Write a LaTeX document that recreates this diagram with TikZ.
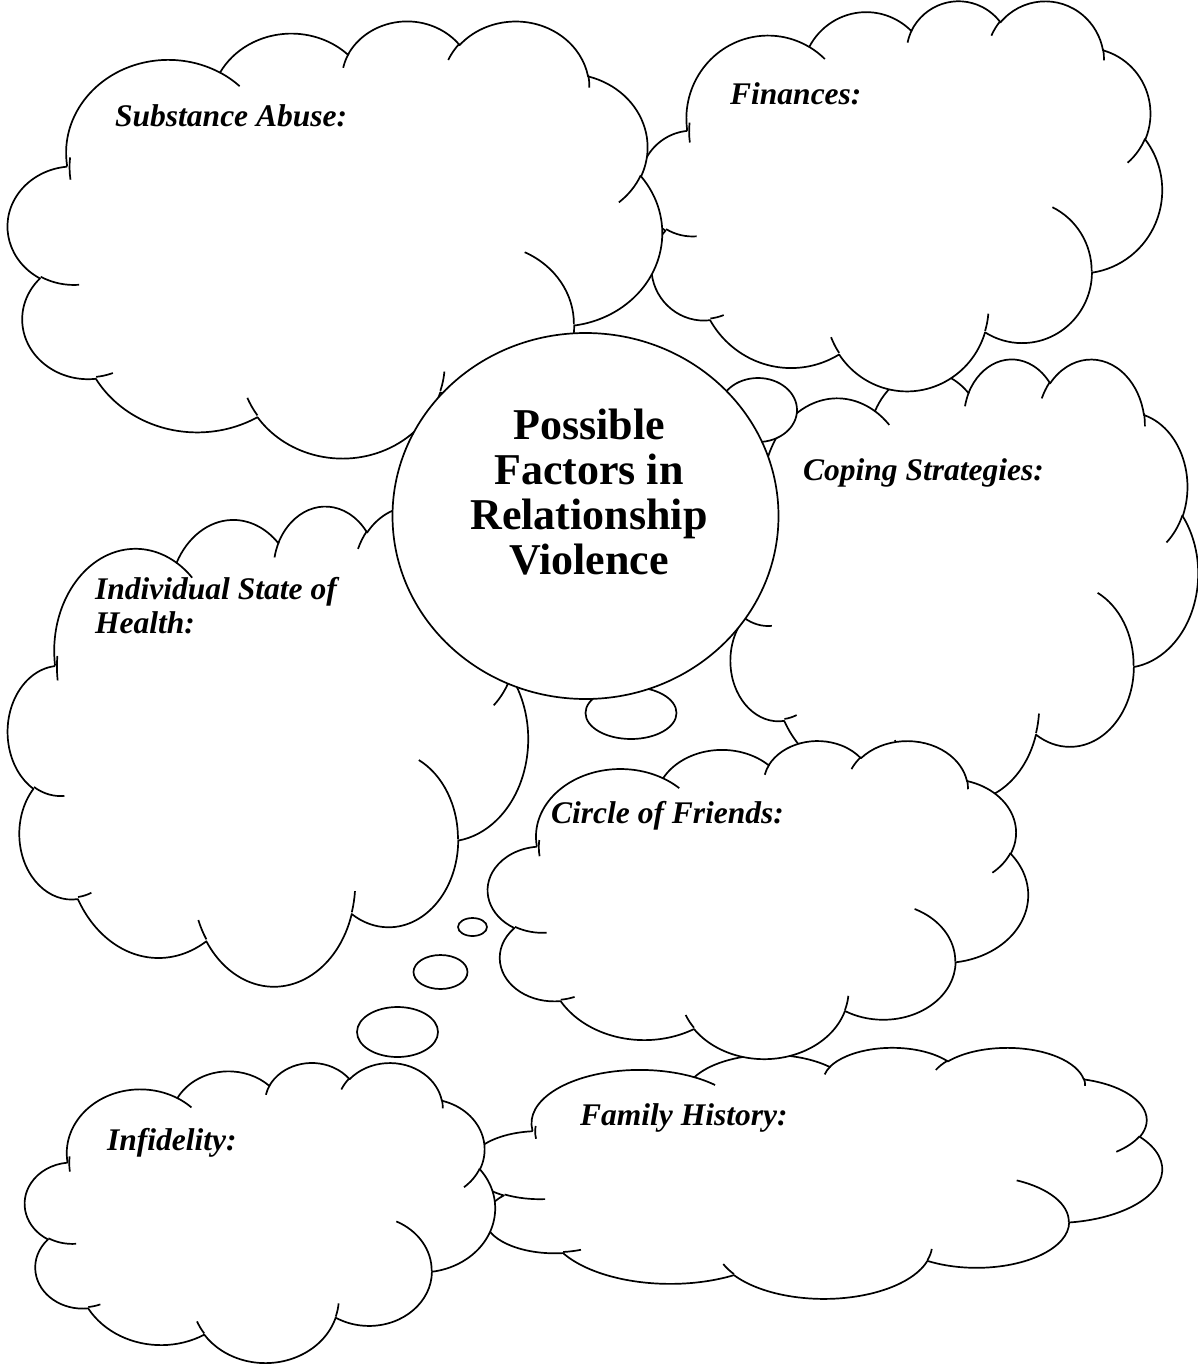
\documentclass[tikz,border=0pt]{standalone}
\usepackage{fontspec}
\setmainfont{Liberation Serif}
% OOXML-style cloud: arcs given by radii and visual start/sweep angles
\newcommand\carc[4]{arc[start angle={atan2((#1)*sin(#3),(#2)*cos(#3))},
 delta angle={mod(atan2((#1)*sin((#3)+(#4)),(#2)*cos((#3)+(#4)))-atan2((#1)*sin(#3),(#2)*cos(#3))+720,360)},
 x radius=#1, y radius=#2]}
\newcommand\cloudouter{(39.00,143.70)
 \carc{67.53}{91.90}{-190.4875}{123.7805}
 \carc{53.33}{72.67}{-144.1024}{89.9452}
 \carc{43.65}{59.45}{-145.8079}{99.7230}
 \carc{48.57}{65.95}{-130.9861}{117.2417}
 \carc{53.33}{72.73}{-78.7089}{109.0269}
 \carc{67.75}{92.20}{-46.2673}{130.2690}
 \carc{57.85}{78.67}{0.6250}{114.0333}
 \carc{67.52}{92.15}{22.4516}{115.1726}
 \carc{77.20}{105.43}{66.2426}{75.7110}
 \carc{43.60}{59.18}{-274.9421}{146.7356}
 \carc{43.45}{59.45}{-246.8285}{152.5189}
 -- cycle}
\newcommand\cloudinner{(46.93,261.77) \carc{43.45}{59.45}{86.742}{26.4295}
 (69.28,348.99) \carc{43.60}{59.18}{73.6105}{11.4475}
 (164.78,390.90) \carc{67.52}{92.15}{137.6242}{14.0811}
 (288.27,347.51) \carc{67.52}{92.15}{6.4533}{15.9984}
 (341.29,229.54) \carc{57.85}{78.67}{-70.2924}{70.9174}
 (417.98,153.54) \carc{53.33}{72.73}{30.3180}{27.7515}
 (383.24,54.26) \carc{48.57}{65.95}{-13.7443}{14.8589}
 (290.78,39.52) \carc{48.57}{65.95}{-149.1815}{18.1954}
 (221.41,47.20) \carc{43.65}{59.45}{-163.4943}{17.6864}
 (140.00,51.92) \carc{67.53}{91.90}{-66.7070}{12.3194}
 (41.27,157.89) \carc{67.53}{91.90}{-190.4875}{18.6437}}
\newcommand\thoughtcloud[4]{%
 \begin{scope}[shift={(#1,#2)}, xscale=#3/432, yscale=#4/432]
  \filldraw[cloudline, fill=white] \cloudouter;
  \draw[cloudline] \cloudinner;
 \end{scope}}
\tikzset{
 cloudline/.style={draw=black, line width=1.7pt, line join=round},
 bubble/.style={draw=black, fill=white, line width=1.7pt},
 label/.style={anchor=base west, inner sep=0pt, align=left,
   font=\bfseries\itshape\fontsize{31.5}{34}\selectfont},
 title/.style={inner sep=0pt, align=center,
   font=\bfseries\fontsize{44}{45}\selectfont}
}
\begin{document}
\begin{tikzpicture}[x=1pt, y=-1pt]
\fill[white] (0,0) rectangle (1198,1367);
\useasboundingbox (0,0) rectangle (1198,1367);
% clouds, back to front
\thoughtcloud{470}{1047}{692}{251}   % Family History
\thoughtcloud{25}{1062}{470}{300}    % Infidelity
\thoughtcloud{720}{358}{478}{442}    % Coping Strategies
\thoughtcloud{640}{0}{522}{390}      % Finances
\thoughtcloud{8}{20}{654}{437}       % Substance Abuse
\thoughtcloud{8}{505}{520}{480}      % Individual State of Health
\thoughtcloud{488}{740}{540}{318}    % Circle of Friends
% thought bubbles
\draw[bubble] (472.5,927) ellipse[x radius=14.5, y radius=9];
\draw[bubble] (440.5,972) ellipse[x radius=27, y radius=17];
\draw[bubble] (397.5,1032) ellipse[x radius=40.5, y radius=25];
\draw[bubble] (758,410) ellipse[x radius=39, y radius=32];
\draw[bubble] (631,713) ellipse[x radius=45.5, y radius=26];
% central circle
\draw[bubble] (585.5,516) ellipse[x radius=193, y radius=183];
\node[title] (center) at (589,492) {Possible\\Factors in\\Relationship\\Violence};
% labels
\node[label] (sub) at (115,127) {Substance Abuse:};
\node[label] (fin) at (730,105) {Finances:};
\node[label] (cop) at (803,480) {Coping Strategies:};
\node[label] (hea) at (95,633) {Individual State of\\Health:};
\node[label] (fri) at (551,823) {Circle of Friends:};
\node[label] (inf) at (107,1150) {Infidelity:};
\node[label] (fam) at (580,1125) {Family History:};
\end{tikzpicture}
\end{document}
